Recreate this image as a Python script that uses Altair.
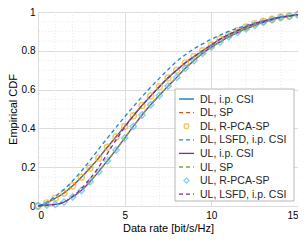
import altair as alt
import pandas as pd

x_vals = [0, 0.5, 1, 1.5, 2, 2.5, 3, 3.5, 4, 4.5, 5, 5.5, 6, 6.5, 7, 7.5, 8, 8.5, 9, 9.5,
          10, 10.5, 11, 11.5, 12, 12.5, 13, 13.5, 14, 14.5, 15]
dl_ip = [0, 0.016, 0.04, 0.067, 0.104, 0.148, 0.196, 0.247, 0.303, 0.356, 0.41, 0.465, 0.518,
         0.567, 0.615, 0.66, 0.70, 0.738, 0.77, 0.80, 0.83, 0.86, 0.883, 0.904, 0.923, 0.94,
         0.952, 0.963, 0.974, 0.98, 0.987]
dl_sp = dl_ip
dl_rpca = dl_ip
dl_lsfd = [0, 0.02, 0.05, 0.085, 0.13, 0.18, 0.235, 0.293, 0.35, 0.405, 0.46, 0.512, 0.563,
           0.612, 0.658, 0.703, 0.745, 0.78, 0.81, 0.836, 0.86, 0.88, 0.9, 0.916, 0.93, 0.944,
           0.955, 0.965, 0.975, 0.981, 0.987]
ul_ip = [0, 0.005, 0.008, 0.02, 0.047, 0.08, 0.125, 0.177, 0.233, 0.289, 0.35, 0.41, 0.469,
         0.522, 0.57, 0.618, 0.663, 0.71, 0.75, 0.787, 0.819, 0.846, 0.872, 0.894, 0.913, 0.931,
         0.947, 0.96, 0.971, 0.978, 0.987]
ul_sp = ul_ip
ul_rpca = ul_ip
ul_lsfd = [0, 0.005, 0.008, 0.02, 0.05, 0.09, 0.14, 0.2, 0.27, 0.34, 0.405, 0.465, 0.518,
           0.567, 0.615, 0.66, 0.70, 0.738, 0.77, 0.80, 0.83, 0.86, 0.883, 0.904, 0.923, 0.94,
           0.952, 0.963, 0.974, 0.98, 0.987]

x_minor = [1, 2, 3, 4, 6, 7, 8, 9, 11, 12, 13, 14]
y_minor = [0.05, 0.1, 0.15, 0.25, 0.3, 0.35, 0.45, 0.5, 0.55, 0.65, 0.7, 0.75, 0.85, 0.9, 0.95]

# (label, values, kind, color)
series = [
    ("DL, i.p. CSI", dl_ip, "solid", "#0072BD"),
    ("DL, SP", dl_sp, "dash", "#D95319"),
    ("DL, R-PCA-SP", dl_rpca, "circle", "#EDB120"),
    ("DL, LSFD, i.p. CSI", dl_lsfd, "dash", "#1f82d4"),
    ("UL, i.p. CSI", ul_ip, "solid", "#7E2F8E"),
    ("UL, SP", ul_sp, "dash", "#77AC30"),
    ("UL, R-PCA-SP", ul_rpca, "diamond", "#4DBEEE"),
    ("UL, LSFD, i.p. CSI", ul_lsfd, "dash", "#7E2F8E"),
]

PAD = {"left": 30, "top": 4, "right": 0, "bottom": 30}
W, H = 260, 194
FONT = "Liberation Sans"
TXT = "#262626"

xscale = alt.Scale(domain=[0, 15], nice=False, zero=False)
yscale = alt.Scale(domain=[0, 1], nice=False)

xaxis = alt.Axis(values=[0, 5, 10, 15], title="Data rate [bit/s/Hz]", grid=True,
                 ticks=False, domain=False, labelPadding=4, titlePadding=2, format="~g",
                 titleFontWeight="normal", titleFont=FONT, titleFontSize=11)
yaxis = alt.Axis(values=[0, 0.2, 0.4, 0.6, 0.8, 1], title="Empirical CDF", grid=True,
                 ticks=False, domain=False, labelPadding=3, titlePadding=3, format="~g",
                 titleFontWeight="normal", titleFont=FONT, titleFontSize=11)

layers = []

# minor grid
layers.append(alt.Chart(pd.DataFrame({"x": x_minor})).mark_rule(
    color="#e6e6e6", strokeWidth=0.8, strokeDash=[1, 2]).encode(
    x=alt.X("x:Q", scale=xscale, axis=xaxis)))
layers.append(alt.Chart(pd.DataFrame({"y": y_minor})).mark_rule(
    color="#e6e6e6", strokeWidth=0.8, strokeDash=[1, 2]).encode(
    y=alt.Y("y:Q", scale=yscale, axis=yaxis)))

for label, vals, kind, color in series:
    df = pd.DataFrame({"x": x_vals, "y": vals})
    enc = dict(x=alt.X("x:Q", scale=xscale, axis=xaxis),
               y=alt.Y("y:Q", scale=yscale, axis=yaxis))
    if kind == "solid":
        m = alt.Chart(df).mark_line(color=color, strokeWidth=1.3, interpolate="monotone")
    elif kind == "dash":
        m = alt.Chart(df).mark_line(color=color, strokeWidth=1.3, strokeDash=[4, 3],
                                    interpolate="monotone")
    elif kind == "circle":
        m = alt.Chart(df).mark_point(shape="circle", color=color, filled=False,
                                     size=36, strokeWidth=1.4)
    else:
        m = alt.Chart(df).mark_point(shape="diamond", color=color, filled=False,
                                     size=40, strokeWidth=1.4)
    layers.append(m.encode(**enc))

# manual legend
box_r = W - 4
box_l = box_r - 119
box_b = H - 5
box_t = box_b - 112
dummy = pd.DataFrame({"a": [0]})
layers.append(alt.Chart(dummy).mark_rect(fill="white", stroke="#a6a6a6", strokeWidth=0.8).encode(
    x=alt.value(box_l), x2=alt.value(box_r), y=alt.value(box_t), y2=alt.value(box_b)))

for i, (label, vals, kind, color) in enumerate(series):
    yc = box_t + 10 + 13.6 * i
    sx0, sx1 = box_l + 4, box_l + 19
    if kind == "solid":
        sym = alt.Chart(dummy).mark_rule(color=color, strokeWidth=1.3).encode(
            x=alt.value(sx0), x2=alt.value(sx1), y=alt.value(yc))
    elif kind == "dash":
        sym = alt.Chart(dummy).mark_rule(color=color, strokeWidth=1.3, strokeDash=[4, 3]).encode(
            x=alt.value(sx0), x2=alt.value(sx1), y=alt.value(yc))
    elif kind == "circle":
        sym = alt.Chart(dummy).mark_point(shape="circle", color=color, filled=False,
                                          size=24, strokeWidth=1.3).encode(
            x=alt.value((sx0 + sx1) / 2), y=alt.value(yc))
    else:
        sym = alt.Chart(dummy).mark_point(shape="diamond", color=color, filled=False,
                                          size=26, strokeWidth=1.3).encode(
            x=alt.value((sx0 + sx1) / 2), y=alt.value(yc))
    layers.append(sym)
    layers.append(alt.Chart(pd.DataFrame({"t": [label]})).mark_text(
        align="left", baseline="middle", font=FONT, fontSize=10.5, color=TXT).encode(
        x=alt.value(box_l + 25), y=alt.value(yc + 0.5), text="t:N"))

chart = alt.layer(*layers).properties(
    width=W, height=H, padding=PAD,
    autosize=alt.AutoSizeParams(type="none")).configure_view(
    stroke="#9a9a9a", strokeWidth=1).configure_axis(
    gridColor="#e3e3e3", gridWidth=0.8, labelFont=FONT, titleFont=FONT,
    labelFontSize=10, titleFontSize=11, labelColor=TXT, titleColor=TXT,
    titleFontWeight="normal").configure(background="white")

chart.save("out.html", embed_options={"renderer": "svg", "actions": False})
